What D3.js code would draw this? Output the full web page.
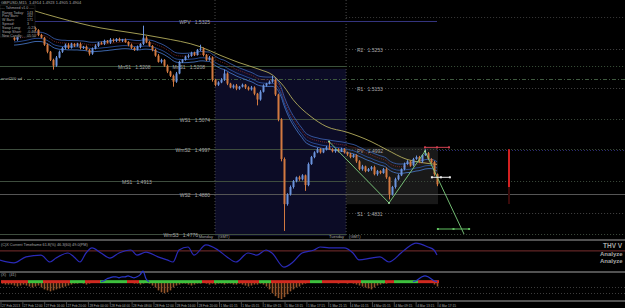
<!DOCTYPE html>
<meta charset="utf-8">
<title>GBPUSD,M15</title>
<style>

body {
  margin: 0;
  background: #000;
}

svg {
  display: block;
  font-family: "Liberation Sans", Arial, sans-serif;
}

text {
  font-size: 5px;
  fill: #a8a8a8;
  white-space: pre;
}

</style>
<body>
<script src="https://cdn.jsdelivr.net/npm/d3@7/dist/d3.min.js"></script>
<script>

var w = 625,
    h = 308;

// M15 closes, left to right
var closes = [
  1.5277, 1.5284, 1.5289, 1.5295, 1.5297, 1.5302, 1.5307, 1.5302, 1.5289, 1.5282,
  1.5264, 1.5246, 1.5225, 1.5210, 1.5231, 1.5246, 1.5256, 1.5264, 1.5256, 1.5266,
  1.5261, 1.5266, 1.5256, 1.5259, 1.5251, 1.5241, 1.5254, 1.5261, 1.5269, 1.5266,
  1.5274, 1.5269, 1.5277, 1.5274, 1.5279, 1.5274, 1.5277, 1.5271, 1.5264, 1.5256,
  1.5251, 1.5259, 1.5266, 1.5282, 1.5271, 1.5261, 1.5251, 1.5236, 1.5220, 1.5225,
  1.5210, 1.5195, 1.5184, 1.5169, 1.5190, 1.5220, 1.5225, 1.5233, 1.5236, 1.5243,
  1.5238, 1.5251, 1.5254, 1.5238, 1.5225, 1.5231, 1.5174, 1.5161, 1.5167, 1.5174,
  1.5190, 1.5164, 1.5154, 1.5159, 1.5151, 1.5156, 1.5161, 1.5154, 1.5149, 1.5154,
  1.5138, 1.5123, 1.5143, 1.5159, 1.5164, 1.5169, 1.5174, 1.5136, 1.5072, 1.4970,
  1.4854, 1.4879, 1.4898, 1.4913, 1.4923, 1.4918, 1.4928, 1.4903, 1.4957, 1.4975,
  1.4987, 1.4995, 1.4987, 1.4995, 1.5000, 1.4995, 1.4990, 1.4995, 1.4990, 1.4995,
  1.4987, 1.4982, 1.4975, 1.4980, 1.4964, 1.4944, 1.4951, 1.4939, 1.4944, 1.4949,
  1.4931, 1.4939, 1.4934, 1.4944, 1.4923, 1.4879, 1.4898, 1.4918, 1.4928, 1.4944,
  1.4957, 1.4964, 1.4954, 1.4970, 1.4975, 1.4964, 1.4980, 1.4985, 1.4970, 1.4962,
  1.4931, 1.4905
];
var firstOpen = 1.5282;

// wicks above / below the body, in pips
var wickUp = [
  3,2,3,2,3,2,4,3,2,3, 2,3,2,3,4,3,2,3,4,3, 2,3,4,2,3,2,3,4,2,3,
  3,2,4,3,2,3,2,3,2,3, 2,3,2,31,4,3,2,3,4,3, 2,3,2,3,4,3,2,3,4,3,
  3,2,10,3,2,4,3,2,3,4, 10,3,2,3,4,2,3,2,3,4, 3,2,4,3,2,3,10,3,2,3,
  4,3,4,3,2,4,3,2,4,3, 3,4,3,2,4,15,3,2,3,4, 3,2,4,3,2,3,4,2,3,3,
  4,3,2,3,4,2,3,4,3,2, 4,3,2,3,4,3,2,10,3,2, 3,2
];
var wickDn = [
  3,3,2,3,2,3,3,4,3,2, 3,4,3,10,3,2,3,4,3,2, 3,2,4,3,2,5,3,2,3,2,
  3,2,3,4,3,2,3,2,4,3, 3,2,4,3,3,2,4,3,2,4, 3,4,3,13,3,2,3,2,4,3,
  3,2,3,4,3,2,5,4,3,2, 3,4,2,3,4,3,2,4,3,3, 4,15,3,2,3,2,3,4,5,6,
  69,4,3,4,3,4,3,15,3,2, 3,2,3,2,3,2,3,4,3,2, 3,4,3,2,4,3,4,3,2,4,
  3,4,3,2,4,13,3,4,3,2, 3,2,4,3,2,3,4,2,3,3, 4,5
];

// slow moving average (yellow), read at these bars
var slowBars = [6, 15, 29, 39, 49, 62, 69, 75, 82, 86, 90, 93, 99, 104, 111, 119, 124, 131, 135, 141];
var slowVals = [1.5353, 1.5333, 1.5307, 1.5295, 1.5282, 1.5259, 1.5236, 1.5218, 1.5200, 1.5187,
                1.5156, 1.5123, 1.5079, 1.5054, 1.5039, 1.5015, 1.4995, 1.4969, 1.4962, 1.4956];

// pivot levels
var pivotNames = ["WPV", "R2", "MnS1", "R1", "WS1", "WmS2", "PV", "MS1", "WS2", "S1", "WmS3"];
var pivotValues = [1.5325, 1.5253, 1.5208, 1.5153, 1.5074, 1.4997, 1.4992, 1.4913, 1.4880, 1.4831, 1.4776];
var topLevel = 1.5335;
var volLevel = 1.5177, volLabel = "ervol200 ad";

// sessions
var sessionNames = ["Monday", "Tuesday"];
var sessionStart = [67, 110.7];
var sessionHigh = [1.5202, 1.5000];
var sessionLow = [1.4772, 1.4854];

// zigzag and projection marks
var zigBars = [105, 125, 137, 150];
var zigVals = [1.5015, 1.4857, 1.4990, 1.4777];
var markBars = [[137, 145], [139.3, 145.3], [141.3, 151.7]];
var markVals = [1.5000, 1.4923, 1.4790];
var signalBar = 165, signalTop = 1.4995, signalBottom = 1.4898;

// oscillator panel
var oscBars = [-5, 0, 4, 9, 12, 14, 18, 20, 22, 24, 26, 29, 32, 35, 39, 41, 44, 48, 51, 53, 55, 58, 60, 64, 68,
               71, 74, 78, 81, 84, 86, 90, 93, 96, 100, 102, 105, 110, 113, 115, 119, 122, 125, 129, 131, 134, 138, 140, 141];
var oscVals = [37, 27, 47, 53, 30, 43, 60, 47, 30, 60, 77, 60, 43, 60, 70, 53, 63, 47, 37, 30, 70, 80, 53, 87, 70,
               47, 30, 60, 53, 70, 60, 13, 30, 60, 70, 80, 77, 77, 60, 37, 43, 47, 30, 60, 77, 93, 80, 70, 53];
var oscLevel = 67;

// histogram panel, bars -4 .. 141
var histStart = -4;
var histo = [
  -2, -3, -3, -3,
  -4, -5, -4, -3, -4, -5, -6, -5, -4, -6,
  -8, -9, -10, -9, -8, -7, -6, -5, -4, -3,
  -2, -2, -1, -2, -3, -2, -1, -1, 0, 0,
  0, 0, 0, -1, 0, 0, 0, 0, -1, -1,
  -2, -2, -3, -2, -1, -2, -4, -6, -9, -11,
  -12, -11, -9, -6, -4, -3, -2, -2, -3, -4,
  -3, -2, -2, -1, -2, -3, -2, -3, -2, -2,
  -3, -2, -2, -3, -3, -2, -3, -4, -5, -4,
  -3, -3, -2, -3, -5, -8, -12, -15, -17, -18,
  -16, -13, -10, -8, -6, -5, -3, -2, -1, -1,
  -1, 0, -1, -1, 0, 0, -1, -1, -2, -1,
  -1, -2, -1, -2, -3, -4, -5, -6, -7, -8,
  -6, -4, -3, -2, -2, -1, -1, -1, 0, 0,
  0, 0, 0, 0, -1, -1, 0, 0, 0, -1,
  -3, -5
];
var redRuns = [[-4, 4], [10, 18], [24, 28], [38, 41], [63, 66], [75, 81], [86, 98], [103, 115], [124, 126], [135, 141]];
var bullBars = [29, 30, 31, 32, 33, 34, 35, 36, 37, 38, 39, 40, 41, 42, 43, 44, 45, 133, 134, 135, 136, 137, 138, 139, 140, 141];
var bullVals = [0, 1, 3, 4, 5, 5, 4, 5, 5, 6, 5, 4, 5, 7, 11, 3, 0, 0, 1, 3, 5, 6, 5, 3, 1, 0];

var timeLabels = ["27 Feb 2013", "27 Feb 12:00", "27 Feb 16:00", "27 Feb 20:00", "28 Feb 00:00", "28 Feb 04:00",
  "28 Feb 08:00", "28 Feb 12:00", "28 Feb 16:00", "28 Feb 20:00", "1 Mar 01:15", "1 Mar 05:15", "1 Mar 09:15",
  "1 Mar 13:15", "1 Mar 17:15", "1 Mar 21:15", "4 Mar 01:15", "4 Mar 05:15", "4 Mar 09:15", "4 Mar 13:15", "4 Mar 17:15"];

var infoNames = ["Range Today:", "Prev Bars:", "W Bars:", "Spread:", "Swap Long:", "Swap Short:", "New Candle:"];
var infoValues = ["143", "162", "171", "3", "-0.23", "-0.46", "05:50"];

var x = d3.scaleLinear().domain([0, 141]).range([14, 437]),
    y = d3.scaleLinear().domain([1.4772, 1.5379]).range([236, 0]),
    yOsc = d3.scaleLinear().domain([0, 100]).range([271, 241]),
    yHist = d3.scaleLinear().domain([-20, 10]).range([301, 272]),
    xTime = d3.scaleLinear().domain([0, timeLabels.length - 1]).range([1, 438]);

var svg = d3.select("body").append("svg")
    .attr("width", w)
    .attr("height", h);

svg.append("rect").attr("width", w).attr("height", h).attr("fill", "#000");

var main = svg.append("g");

// session shading
sessionStart.forEach(function(s, i) {
  var end = i + 1 < sessionStart.length ? x(sessionStart[i + 1]) : x(141) + 1;
  main.append("rect")
      .attr("x", x(s))
      .attr("y", y(sessionHigh[i]))
      .attr("width", end - x(s))
      .attr("height", y(sessionLow[i]) - y(sessionHigh[i]))
      .attr("fill", i == 0 ? "#0c0c26" : "#191919");
  main.append("line")
      .attr("x1", x(s)).attr("x2", x(s))
      .attr("y1", 0).attr("y2", 237)
      .attr("stroke", "#4a4a4a")
      .attr("stroke-dasharray", "1,2");
});

function hline(yy, x1, x2, color, dash) {
  main.append("line")
      .attr("x1", x1).attr("x2", x2)
      .attr("y1", Math.round(yy) + 0.5).attr("y2", Math.round(yy) + 0.5)
      .attr("stroke", color)
      .attr("stroke-dasharray", dash);
}

var split = x(110.7);

hline(y(topLevel), split, w, "#3a3a3a", "1,2");
hline(y(volLevel), 0, w, "#3f5a3f", "4,2,1,2");
main.append("text").attr("x", 1).attr("y", y(volLevel) + 1.5).attr("fill", "#c8c8c8").style("font-size", "4px").text(volLabel);

var pivotStyle = {
  WPV:  {solid: [33, x(141)], dotted: null, color: "#34347e", label: [[210, "end"]]},
  R2:   {solid: null, dotted: [split, w], color: "#444", label: [[357, "start"]]},
  MnS1: {solid: [0, split], dotted: [split, w], color: "#3b523b", label: [[118, "start"], [205, "end"]]},
  R1:   {solid: null, dotted: [split, w], color: "#444", label: [[357, "start"]]},
  WS1:  {solid: [0, split], dotted: [split, w], color: "#3e4d3e", label: [[210, "end"]]},
  WmS2: {solid: [0, split], dotted: [split, w], color: "#3e4d3e", label: [[210, "end"]]},
  PV:   {solid: null, dotted: [x(141), w], color: "#2a2a70", label: [[357, "start"]]},
  MS1:  {solid: [0, split], dotted: [split, w], color: "#3e4d3e", label: [[122, "start"]]},
  WS2:  {solid: [0, w], dotted: null, color: "#555", label: [[210, "end"]]},
  S1:   {solid: null, dotted: [split, w], color: "#444", label: [[357, "start"]]},
  WmS3: {solid: [0, split], dotted: [split, w], color: "#3e4d3e", label: [[198, "end"]]}
};

pivotNames.forEach(function(name, i) {
  var s = pivotStyle[name], yy = y(pivotValues[i]);
  if (s.solid) hline(yy, s.solid[0], s.solid[1], s.color, null);
  if (s.dotted) hline(yy, s.dotted[0], s.dotted[1], s.color, "1,2");
  s.label.forEach(function(l) {
    main.append("text")
        .attr("x", l[0])
        .attr("y", yy + 3)
        .attr("text-anchor", l[1])
        .text(name + "   " + pivotValues[i].toFixed(4));
  });
});

// session labels
sessionStart.forEach(function(s, i) {
  main.append("text").attr("x", x(s) - 2).attr("y", 238).attr("text-anchor", "end")
      .attr("fill", "#d02020").style("font-size", "4px").text(sessionNames[i]);
  main.append("text").attr("x", x(s) + 3).attr("y", 238)
      .attr("fill", "#d02020").style("font-size", "4px").text("(GMT)");
});

// moving-average band
var ema = [], a = 2 / 25;
closes.forEach(function(c, i) { ema.push(i == 0 ? c : ema[i - 1] + a * (c - ema[i - 1])); });

var band = [[0.0010, "#3d64b8", null], [0.0003, "#8a2a2a", "1,1"], [-0.0006, "#2f55a8", null], [-0.0014, "#4a7cd0", null]];
band.forEach(function(b) {
  main.append("path")
      .datum(ema)
      .attr("fill", "none")
      .attr("stroke", b[1])
      .attr("stroke-width", 0.8)
      .attr("stroke-dasharray", b[2])
      .attr("d", d3.line()
          .x(function(d, i) { return x(i); })
          .y(function(d) { return y(d + b[0]); })
          .curve(d3.curveMonotoneX));
});

main.append("path")
    .datum(slowBars)
    .attr("fill", "none")
    .attr("stroke", "#b3ad5c")
    .attr("stroke-width", 0.9)
    .attr("d", d3.line()
        .x(function(d) { return x(d); })
        .y(function(d, i) { return y(slowVals[i]); })
        .curve(d3.curveMonotoneX));

// candles
var candles = closes.map(function(c, i) {
  var o = i == 0 ? firstOpen : closes[i - 1];
  return {i: i, o: o, c: c, hi: Math.max(o, c) + wickUp[i] / 10000, lo: Math.min(o, c) - wickDn[i] / 10000};
});

var cg = main.selectAll(".candle")
    .data(candles)
  .enter().append("g")
    .attr("class", "candle");

cg.append("line")
    .attr("x1", function(d) { return x(d.i) + 0.5; })
    .attr("x2", function(d) { return x(d.i) + 0.5; })
    .attr("y1", function(d) { return y(d.hi); })
    .attr("y2", function(d) { return y(d.lo); })
    .attr("stroke", function(d) { return d.c >= d.o ? "#6b93dc" : "#d27940"; })
    .attr("stroke-width", 1);

cg.append("rect")
    .attr("x", function(d) { return x(d.i) - 0.5; })
    .attr("y", function(d) { return y(Math.max(d.o, d.c)); })
    .attr("width", 2)
    .attr("height", function(d) { return Math.max(1, Math.abs(y(d.o) - y(d.c))); })
    .attr("fill", function(d) { return d.c >= d.o ? "#6b93dc" : "#d27940"; });

// zigzag
main.append("path")
    .datum(zigBars)
    .attr("fill", "none")
    .attr("stroke", "#7fcf7f")
    .attr("stroke-width", 0.9)
    .attr("d", d3.line().x(function(d) { return x(d); }).y(function(d, i) { return y(zigVals[i]); }));

main.selectAll(".zig")
    .data(zigBars.slice(0, 3))
  .enter().append("circle")
    .attr("cx", function(d) { return x(d); })
    .attr("cy", function(d, i) { return y(zigVals[i]); })
    .attr("r", 1)
    .attr("fill", "#9fe09f");

var markColors = ["#d04050", "#f0f0f0", "#60c060"];
markBars.forEach(function(m, i) {
  main.append("line")
      .attr("x1", x(m[0])).attr("x2", x(m[1]))
      .attr("y1", y(markVals[i])).attr("y2", y(markVals[i]))
      .attr("stroke", markColors[i])
      .attr("stroke-width", 1);
  [m[0], (m[0] + m[1]) / 2, m[1]].forEach(function(b) {
    main.append("rect").attr("x", x(b) - 1).attr("y", y(markVals[i]) - 1)
        .attr("width", 2).attr("height", 2).attr("fill", markColors[i]);
  });
});

main.append("line")
    .attr("x1", x(signalBar)).attr("x2", x(signalBar))
    .attr("y1", y(signalTop)).attr("y2", y(signalBottom))
    .attr("stroke", "#d42020")
    .attr("stroke-width", 2);
main.append("line")
    .attr("x1", x(signalBar)).attr("x2", x(signalBar))
    .attr("y1", y(signalBottom)).attr("y2", y(signalBottom) + 17)
    .attr("stroke", "#3a0a0a")
    .attr("stroke-width", 2);

// info box
svg.append("text").attr("x", 1).attr("y", 4).style("font-size", "4px").attr("fill", "#c8c8c8")
    .text("GBPUSD,M15  1.4914 1.4923 1.4905 1.4904");
svg.append("rect").attr("x", 0).attr("y", 5).attr("width", 35).attr("height", 32)
    .attr("fill", "#000").attr("stroke", "#333").attr("stroke-width", 0.5);
svg.append("text").attr("x", 17).attr("y", 9).attr("text-anchor", "middle")
    .style("font-size", "3.6px").attr("fill", "#dcdcdc").text("---- Tahmeed v1.0 ----");
infoNames.forEach(function(n, i) {
  svg.append("text").attr("x", 2).attr("y", 13.5 + i * 3.9).style("font-size", "3.6px").attr("fill", "#e0e0e0").text(n);
  svg.append("text").attr("x", 27).attr("y", 13.5 + i * 3.9).style("font-size", "3.6px").attr("fill", "#e0e0e0").text(infoValues[i]);
});

// panel separators
[240, 272, 301].forEach(function(yy) {
  svg.append("line").attr("x1", 0).attr("x2", w).attr("y1", yy).attr("y2", yy)
      .attr("stroke", "#6e6e6e").attr("stroke-width", 1.5);
});

// oscillator panel
svg.append("text").attr("x", 1).attr("y", 245.5).style("font-size", "3.8px").attr("fill", "#b8b8b8")
    .text("(C)X Current Timeframe 61.8(%) 46.3(60) 49.0(PM)");
svg.append("line").attr("x1", 0).attr("x2", w).attr("y1", yOsc(oscLevel)).attr("y2", yOsc(oscLevel))
    .attr("stroke", "#9a3a3a").attr("stroke-width", 0.8);
svg.append("path")
    .datum(oscBars)
    .attr("fill", "none")
    .attr("stroke", "#2a2ab8")
    .attr("stroke-width", 1.2)
    .attr("d", d3.line().x(function(d) { return x(d); }).y(function(d, i) { return yOsc(oscVals[i]); })
        .curve(d3.curveMonotoneX));

svg.append("text").attr("x", 603).attr("y", 248).style("font-size", "6.5px").style("font-weight", "bold")
    .attr("fill", "#8c8a3c").text("THV V");
svg.append("text").attr("x", 600).attr("y", 256).style("font-size", "6px").style("font-weight", "bold")
    .attr("fill", "#e8c020").text("Analyze");
svg.append("text").attr("x", 600).attr("y", 262.5).style("font-size", "6px").style("font-weight", "bold")
    .attr("fill", "#40d040").text("Analyze");

// histogram panel
svg.append("text").attr("x", 1).attr("y", 276).style("font-size", "3.8px").attr("fill", "#b8b8b8").text("(X)   (41)");
[287, 293].forEach(function(yy) {
  svg.append("line").attr("x1", 0).attr("x2", w).attr("y1", yy + 0.5).attr("y2", yy + 0.5)
      .attr("stroke", "#3c3c3c").attr("stroke-dasharray", "1,2");
});

svg.selectAll(".hist")
    .data(histo)
  .enter().append("line")
    .attr("x1", function(d, i) { return x(i + histStart) + 0.5; })
    .attr("x2", function(d, i) { return x(i + histStart) + 0.5; })
    .attr("y1", yHist(0))
    .attr("y2", function(d) { return yHist(d); })
    .attr("stroke", "#94552a")
    .attr("stroke-width", 1.6);

function isRed(b) {
  return redRuns.some(function(r) { return b >= r[0] && b <= r[1]; });
}

svg.selectAll(".trend")
    .data(d3.range(histStart, 142))
  .enter().append("rect")
    .attr("x", function(b) { return x(b) - 1; })
    .attr("y", yHist(0) - 1.5)
    .attr("width", 3)
    .attr("height", 3)
    .attr("fill", function(b) { return isRed(b) ? "#d02a20" : "#3ec03e"; });

[[0, 17], [17, 26]].forEach(function(r) {
  svg.append("path")
      .datum(bullBars.slice(r[0], r[1]))
      .attr("fill", "none")
      .attr("stroke", "#2a36c8")
      .attr("stroke-width", 1.2)
      .attr("d", d3.line().x(function(d) { return x(d); })
          .y(function(d, i) { return yHist(bullVals[r[0] + i]); })
          .curve(d3.curveMonotoneX));
});

// time axis
timeLabels.forEach(function(t, i) {
  svg.append("line").attr("x1", xTime(i)).attr("x2", xTime(i)).attr("y1", 302).attr("y2", 307)
      .attr("stroke", "#888").attr("stroke-width", 0.5);
  svg.append("text").attr("x", xTime(i) + 1).attr("y", 306.5).style("font-size", "3.2px").attr("fill", "#c0c0c0").text(t);
});

</script>
